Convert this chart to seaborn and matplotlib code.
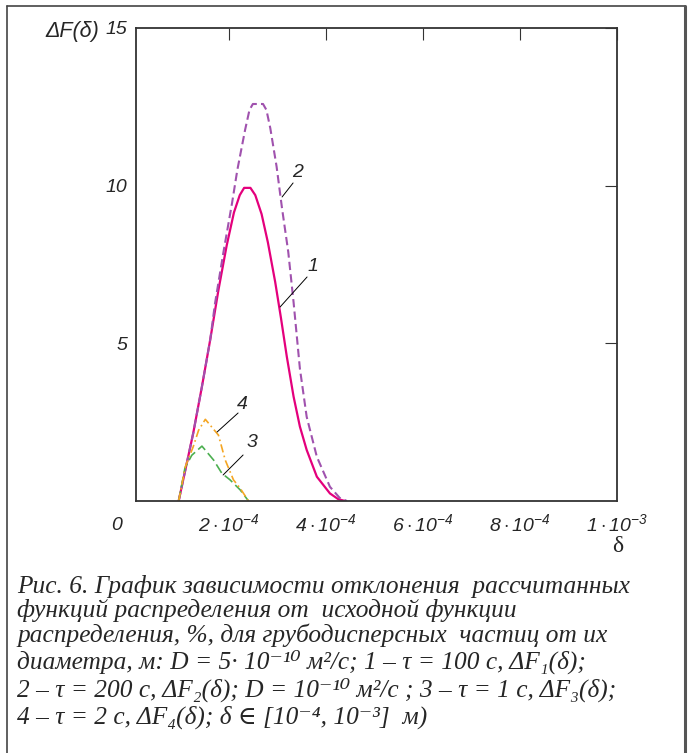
import numpy as np
import pandas as pd
import matplotlib
matplotlib.use("Agg")
import matplotlib.pyplot as plt
import seaborn as sns
from matplotlib.lines import Line2D

# ---------------- data (delta in units of 1e-4 m, values in %) ----------------
delta1 = [0.96, 1.26, 1.44, 1.61, 1.78, 1.95, 2.10, 2.22, 2.31, 2.44, 2.54, 2.67,
          2.80, 2.95, 3.07, 3.19, 3.33, 3.46, 3.60, 3.81, 4.08, 4.25, 4.39]
dF1 = [0.0, 2.15, 3.63, 5.11, 6.69, 8.10, 9.15, 9.70, 9.93, 9.93, 9.70, 9.10,
       8.20, 6.95, 5.80, 4.58, 3.31, 2.36, 1.62, 0.77, 0.24, 0.06, 0.0]

delta2 = [0.96, 1.26, 1.44, 1.61, 1.71, 1.88, 2.06, 2.17, 2.33, 2.42, 2.49, 2.70,
          2.77, 2.85, 2.98, 3.09, 3.22, 3.33, 3.46, 3.60, 3.81, 4.08, 4.28, 4.43]
dF2 = [0.0, 2.15, 3.63, 5.11, 6.27, 7.86, 9.44, 10.5, 11.77, 12.4, 12.59, 12.59,
       12.4, 11.82, 10.6, 9.3, 7.9, 6.3, 4.2, 2.67, 1.40, 0.45, 0.1, 0.0]

delta3 = [0.96, 1.09, 1.23, 1.44, 1.68, 1.85, 2.02, 2.23, 2.40]
dF3 = [0.0, 1.05, 1.45, 1.74, 1.30, 0.88, 0.67, 0.35, 0.0]

delta4 = [0.96, 1.10, 1.26, 1.37, 1.51, 1.78, 1.92, 2.09, 2.23, 2.40]
dF4 = [0.0, 1.10, 1.72, 2.24, 2.59, 2.09, 1.30, 0.67, 0.40, 0.0]

xtick_vals = [2e-4, 4e-4, 6e-4, 8e-4, 1e-3]
xtick_labels = [r"$2\cdot10^{-4}$", r"$4\cdot10^{-4}$", r"$6\cdot10^{-4}$",
                r"$8\cdot10^{-4}$", r"$1\cdot10^{-3}$"]
ytick_vals = [5, 10, 15]
ytick_labels = ["5", "10", "15"]

caption = [
    "Рис. 6. График зависимости отклонения  рассчитанных",
    "функций распределения от  исходной функции",
    "распределения, %, для грубодисперсных  частиц от их",
    "диаметра, м: D = 5· 10⁻¹⁰ м²/с; 1 – τ = 100 с, ΔF₁(δ);",
    "2 – τ = 200 с, ΔF₂(δ); D = 10⁻¹⁰ м²/с ; 3 – τ = 1 с, ΔF₃(δ);",
    "4 – τ = 2 с, ΔF₄(δ); δ ∈ [10⁻⁴, 10⁻³]  м)",
]

# ---------------- style ----------------
sns.set_style("white")
plt.rcParams["font.family"] = ["Liberation Sans", "DejaVu Sans"]
plt.rcParams["mathtext.fontset"] = "custom"
plt.rcParams["mathtext.rm"] = "Liberation Sans:italic"
plt.rcParams["mathtext.it"] = "Liberation Sans:italic"
plt.rcParams["mathtext.bf"] = "Liberation Sans:italic:bold"

W, H = 692, 753
fig = plt.figure(figsize=(W / 100, H / 100), dpi=100)
ax = fig.add_axes([136 / W, 1 - 501 / H, (617 - 136) / W, (501 - 28) / H])

def frame(d, v, name):
    return pd.DataFrame({"delta": np.asarray(d) * 1e-4, "dF": v, "curve": name})

series = [
    (delta1, dF1, "1", "#E4007C", "-", 1.6),
    (delta2, dF2, "2", "#A052AE", (0, (4, 2)), 1.5),
    (delta3, dF3, "3", "#4CAF50", (0, (6, 2.5)), 1.2),
    (delta4, dF4, "4", "#F5A623", (0, (5, 2, 1, 2)), 1.2),
]
for d, v, name, col, ls, lw in series:
    sns.lineplot(data=frame(d, v, name), x="delta", y="dF", ax=ax, color=col,
                 linestyle=ls, linewidth=lw, sort=False, estimator=None)

ax.set_xlim(0.08e-4, 1e-3)
ax.set_ylim(0, 15)
ax.set_xlabel("")
ax.set_ylabel("")
ax.set_xticks(xtick_vals)
ax.set_xticklabels(xtick_labels)
ax.set_yticks(ytick_vals)
ax.set_yticklabels(ytick_labels)
ax.tick_params(axis="both", direction="in", length=8.3, width=0.8, color="#333333",
               labelsize=14, top=True, right=True)
ax.tick_params(axis="x", pad=9)
ax.tick_params(axis="y", pad=6)
for lab in ax.get_yticklabels():
    lab.set_fontstyle("italic")
for sp in ax.spines.values():
    sp.set_color("#333333")
    sp.set_linewidth(1.3)

# curve labels with leader lines
def px2d(x, y):
    return ((x - 132) / 485 * 1e-3, (501 - y) / 31.53)

labels = [("1", (313, 267), (280, 307), (307, 277)),
          ("2", (297, 173), (282, 197), (293, 183)),
          ("4", (242, 405), (217, 432), (238, 413)),
          ("3", (252, 443), (223, 475), (243, 455))]
for txt, tp, a, b in labels:
    tx, ty = px2d(*tp)
    ax.text(tx, ty, txt, fontsize=14, fontstyle="italic", ha="center", va="center")
    (x0, y0), (x1, y1) = px2d(*a), px2d(*b)
    ax.plot([x0, x1], [y0, y1], color="black", lw=0.7)

# corner texts
fig.text(117 / W, 1 - 526 / H, "0", fontsize=14, fontstyle="italic", ha="center", va="center")
fig.text(99 / W, 1 - 32 / H, "ΔF(δ)", fontsize=15.5, fontstyle="italic", ha="right", va="center")
fig.text(618 / W, 1 - 546 / H, "δ", fontsize=17, family="Liberation Serif", ha="center", va="center")

# caption
baselines = [593, 617, 642, 669, 697, 724]
for line, yb in zip(caption, baselines):
    fig.text(17 / W, 1 - yb / H, line, fontsize=18.3, family=["Liberation Serif", "DejaVu Serif"],
             fontstyle="italic", ha="left", va="baseline")

# outer frame
tr = fig.transFigure
def fl(x0, y0, x1, y1, lw, c):
    fig.add_artist(Line2D([x0 / W, x1 / W], [1 - y0 / H, 1 - y1 / H], transform=tr, lw=lw, color=c))
fl(7, 6, 685, 6, 1.2, "#444444")
fl(7, 6, 7, 760, 1.2, "#444444")
fl(685, 6, 685, 760, 2.2, "#555555")

fig.savefig("out.png", dpi=100)
